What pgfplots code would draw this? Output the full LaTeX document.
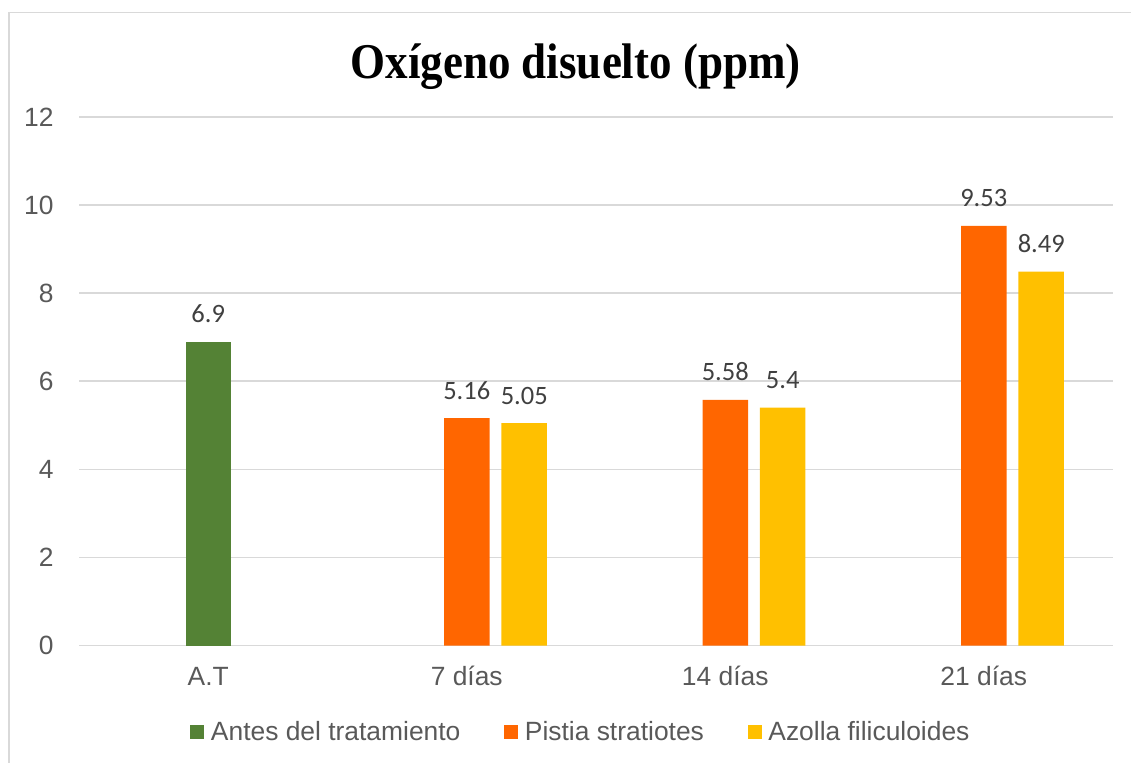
\documentclass[border=0pt]{standalone}
\usepackage{pgfplots}
\pgfplotsset{compat=1.18}
\usepackage{graphicx}
\usepackage{fontspec}
\setmainfont{Liberation Sans}
\newfontfamily\labelfont{Carlito}
\newfontfamily\titlefont{Liberation Serif}

\definecolor{gridgray}{HTML}{D9D9D9}
\definecolor{ticktext}{HTML}{595959}
\definecolor{valtext}{HTML}{404040}
\definecolor{verde}{HTML}{548235}
\definecolor{naranja}{HTML}{FF6600}
\definecolor{amarillo}{HTML}{FFC000}

\begin{document}
\begin{tikzpicture}
\begin{axis}[
  scale only axis,
  width=517pt, height=264.25pt,
  xmin=-0.5, xmax=3.5, ymin=0, ymax=12,
  xtick={0,1,2,3},
  xticklabels={A.T, 7 días, 14 días, 21 días},
  ytick={0,2,...,12},
  ymajorgrids,
  grid style={gridgray, line width=0.8pt},
  axis line style={draw=none},
  major tick length=0pt,
  /pgf/number format/assume math mode=true,
  tick label style={font=\fontsize{13.2}{15}\selectfont, text=ticktext, inner sep=0pt},
  yticklabel style={anchor=east, xshift=-12.5pt},
  xticklabel style={anchor=base, yshift=-19.75pt},
  legend columns=3,
  legend style={draw=none, fill=none, inner sep=0pt,
    at={(0.4845,-0.1637)}, anchor=center,
    font=\fontsize{13.2}{15}\selectfont, text=ticktext,
    nodes={inner sep=0pt},
    /tikz/every odd column/.append style={column sep=3.25pt},
    /tikz/every even column/.append style={column sep=22pt}},
  legend image code/.code={\fill[#1] (0pt,-3.5pt) rectangle (7pt,3.5pt);},
  every node near coord/.append style={font=\labelfont\fontsize{13.25}{15}\selectfont,
    text=valtext, anchor=base, inner sep=0pt, yshift=9.45pt},
]
% Antes del tratamiento
\addplot[ybar, bar width=0.176, bar shift=0, fill=verde, draw=none,
  nodes near coords] coordinates {(0,6.9)};
\addlegendentry{Antes del tratamiento}
% Pistia stratiotes
\addplot[ybar, bar width=0.176, bar shift=0, fill=naranja, draw=none,
  nodes near coords] coordinates {(1,5.16) (2,5.58) (3,9.53)};
\addlegendentry{Pistia stratiotes}
% Azolla filiculoides (bars sit to the right of the Pistia bars)
\addplot[ybar, bar width=0.176, bar shift=0.2224, fill=amarillo, draw=none,
  nodes near coords,
  every node near coord/.append style={xshift=28.75pt}]
  coordinates {(1,5.05) (2,5.4) (3,8.49)};
\addlegendentry{Azolla filiculoides}
\end{axis}
% chart frame
\draw[gridgray, line width=0.75pt] (-35pt,-60pt) -- (-35pt,316.6pt) -- (530pt,316.6pt);
% title
\node[anchor=base, inner sep=0pt] at (248.35pt,283.5pt)
  {\scalebox{0.9}[1]{\titlefont\bfseries\fontsize{25}{30}\selectfont Oxígeno disuelto (ppm)}};
\pgfresetboundingbox
\path[use as bounding box] (-39.5pt,-58.25pt) rectangle (526pt,322.75pt);
\end{tikzpicture}
\end{document}
